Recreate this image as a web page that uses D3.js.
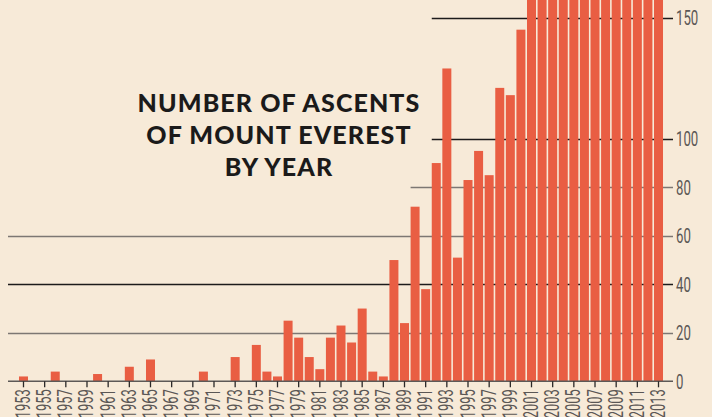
<!DOCTYPE html>
<html><head><meta charset="utf-8">
<script src="https://cdn.jsdelivr.net/npm/d3@7"></script>
<style>
html,body{margin:0;padding:0;background:#f7ead8;}
svg{display:block;}
</style></head>
<body><svg id="c" width="712" height="417"></svg>
<script>
const years = d3.range(1953, 2014);
const ascents = [
 2,0,0,4,0,0,0,3,0,0,6,0,9,0,0,0,0,4,0,0,
 10,0,15,4,2,25,18,10,5,18,23,16,30,4,2,50,24,72,38,90,
 129,51,83,95,85,121,118,145,182,159,266,330,296,493,633,423,494,543,563,547,658
];
const yTicks = [0,20,40,60,80,100,150];
const tickLabelYears = d3.range(1953, 2014, 2);
const titleLines = ["NUMBER OF ASCENTS","OF MOUNT EVEREST","BY YEAR"];
const data = years.map((y,i)=>({year:y, value:ascents[i]}));

const svg = d3.select("#c");
const W=712,H=417;
svg.append("rect").attr("width",W).attr("height",H).attr("fill","#f7ead8");

const x = d3.scaleBand().domain(years).range([18.2,663.8]).paddingInner(0.15).paddingOuter(0.075);
const y = d3.scaleLinear().domain([0,150]).range([381.3,381.3-150*2.425]);

const axisLeft = 8, axisRight = 673;
const gridStyle = {20:{c:"#7d7773",w:1.7,from:null},40:{c:"#1d1b1b",w:1.3,from:null},60:{c:"#7d7773",w:1.7,from:null},
  80:{c:"#7d7773",w:1.7,from:1990},100:{c:"#1d1b1b",w:1.3,from:1992},150:{c:"#1d1b1b",w:1.3,from:1992}};

// gridlines
const g = svg.append("g");
yTicks.filter(t=>t>0).forEach(t=>{
  const s = gridStyle[t];
  const x0 = s.from==null ? axisLeft : x(s.from);
  g.append("line").attr("x1",x0).attr("x2",axisRight)
   .attr("y1",Math.round(y(t))+0.5).attr("y2",Math.round(y(t))+0.5)
   .attr("stroke",s.c).attr("stroke-width",s.w);
});

// bars
svg.append("defs").append("clipPath").attr("id","clip").append("rect")
  .attr("x",0).attr("y",0).attr("width",W).attr("height",y(0));
svg.append("g").attr("clip-path","url(#clip)").selectAll("rect").data(data).join("rect")
  .attr("x",d=>x(d.year)).attr("width",x.bandwidth())
  .attr("y",d=>y(d.value)).attr("height",d=>y(0)-y(d.value))
  .attr("fill","#e95e43");

// baseline
svg.append("line").attr("x1",axisLeft).attr("x2",axisRight).attr("y1",y(0)).attr("y2",y(0))
  .attr("stroke","#5d5957").attr("stroke-width",1.6);

// x ticks
const xa = svg.append("g");
tickLabelYears.forEach(yr=>{
  const cx = x(yr)+x.bandwidth()/2;
  xa.append("line").attr("x1",cx).attr("x2",cx).attr("y1",y(0)).attr("y2",y(0)+6)
    .attr("stroke","#2a2828").attr("stroke-width",1.3);
  xa.append("text").attr("transform",`translate(${cx+6.5},${y(0)+8}) rotate(-90) scale(0.66,1)`)
    .attr("text-anchor","end").attr("font-family","Roboto").attr("font-size",19.5)
    .attr("fill","#5b5755").text(yr);
});

// y axis labels
const ya = svg.append("g");
yTicks.forEach(t=>{
  ya.append("text").attr("transform",`translate(676,${y(t)+7.2}) scale(0.66,1)`)
    .attr("font-family","Roboto").attr("font-size",20).attr("fill","#5b5755").text(t);
});

// title
const tt = svg.append("text").attr("text-anchor","middle").attr("font-family","Lato")
  .attr("font-weight",900).attr("font-size",25).attr("fill","#1b1a1a").attr("letter-spacing",1.1);
titleLines.forEach((l,i)=>{
  tt.append("tspan").attr("x",279).attr("y",111.5+i*32).text(l);
});
</script></body></html>
